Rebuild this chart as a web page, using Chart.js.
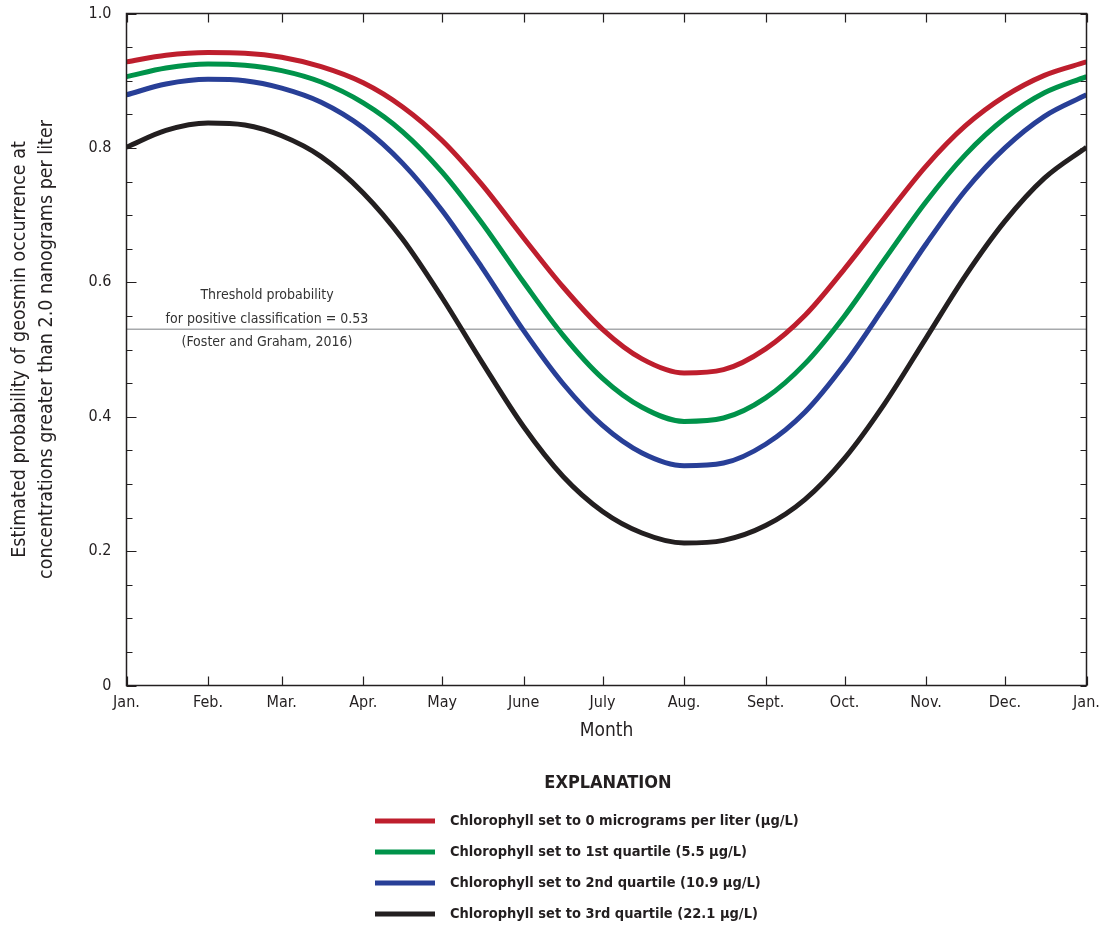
<!DOCTYPE html>
<html>
<head>
<meta charset="utf-8">
<script src="https://cdn.jsdelivr.net/npm/chart.js@4.4.1/dist/chart.umd.min.js"></script>
<style>
  body { margin: 0; background: #fff; }
  canvas { display: block; }
</style>
</head>
<body>
<canvas id="grafico" width="1102" height="928"></canvas>
<script>
// day of year at which each point was read
const days = [0, 15, 31, 45, 59, 74, 90, 105, 120, 135, 151, 166, 181, 196, 212, 227, 243, 258, 273, 288, 304, 319, 334, 349, 365];

const chl0 = [0.928, 0.938, 0.942, 0.941, 0.935, 0.921, 0.897, 0.861, 0.811, 0.746, 0.666, 0.593, 0.530, 0.486, 0.465, 0.470, 0.501, 0.551, 0.620, 0.695, 0.773, 0.833, 0.877, 0.908, 0.928];
const chlQ1 = [0.906, 0.919, 0.925, 0.923, 0.915, 0.898, 0.867, 0.824, 0.764, 0.689, 0.600, 0.521, 0.457, 0.414, 0.393, 0.398, 0.428, 0.479, 0.550, 0.633, 0.720, 0.790, 0.844, 0.882, 0.906];
const chlQ2 = [0.879, 0.895, 0.902, 0.900, 0.889, 0.868, 0.830, 0.777, 0.707, 0.623, 0.528, 0.449, 0.387, 0.346, 0.327, 0.331, 0.359, 0.407, 0.478, 0.563, 0.657, 0.737, 0.800, 0.847, 0.879];
const chlQ3 = [0.801, 0.826, 0.837, 0.834, 0.818, 0.787, 0.733, 0.664, 0.577, 0.482, 0.385, 0.311, 0.259, 0.227, 0.212, 0.216, 0.238, 0.277, 0.338, 0.418, 0.517, 0.610, 0.691, 0.755, 0.801];

const seriesNames = [
    'Chlorophyll set to 0 micrograms per liter (\u00b5g/L)',
    'Chlorophyll set to 1st quartile (5.5 \u00b5g/L)',
    'Chlorophyll set to 2nd quartile (10.9 \u00b5g/L)',
    'Chlorophyll set to 3rd quartile (22.1 \u00b5g/L)'
];

const threshold = 0.53;
const thresholdNote = ['Threshold probability', 'for positive classification = 0.53', '(Foster and Graham, 2016)'];

const monthDays = [0, 31, 59, 90, 120, 151, 181, 212, 243, 273, 304, 334, 365];
const monthLabels = ['Jan.', 'Feb.', 'Mar.', 'Apr.', 'May', 'June', 'July', 'Aug.', 'Sept.', 'Oct.', 'Nov.', 'Dec.', 'Jan.'];

const yTickValues = [0, 0.2, 0.4, 0.6, 0.8, 1.0];
const yTickLabels = ['0', '0.2', '0.4', '0.6', '0.8', '1.0'];

const FONT = '"Liberation Sans Narrow", "DejaVu Sans Condensed", "Liberation Sans", sans-serif';
const INK = '#231f20';

function pontos(valores) {
    return days.map((d, i) => ({ x: d, y: valores[i] }));
}

function curva(label, valores, cor) {
    return {
        label: label,
        data: pontos(valores),
        borderColor: cor,
        backgroundColor: cor,
        borderWidth: 5,
        pointRadius: 0,
        cubicInterpolationMode: 'monotone',
        order: 1
    };
}

// frame, inward ticks, threshold note and the explanation block
const moldura = {
    id: 'moldura',
    afterDraw(chart) {
        const { ctx, chartArea: a, scales: { x, y } } = chart;
        ctx.save();

        ctx.strokeStyle = INK;
        ctx.lineWidth = 1.5;
        ctx.strokeRect(a.left, a.top, a.right - a.left, a.bottom - a.top);

        ctx.lineWidth = 1.2;
        ctx.beginPath();
        x.ticks.forEach(t => {
            const px = Math.round(x.getPixelForValue(t.value)) + 0.5;
            ctx.moveTo(px, a.bottom); ctx.lineTo(px, a.bottom - 9);
            ctx.moveTo(px, a.top); ctx.lineTo(px, a.top + 9);
        });
        y.ticks.forEach(t => {
            const py = Math.round(y.getPixelForValue(t.value)) + 0.5;
            const major = Math.round(t.value * 100) % 20 === 0;
            ctx.moveTo(a.left, py); ctx.lineTo(a.left + (major ? 10 : 6), py);
            ctx.moveTo(a.right, py); ctx.lineTo(a.right - 6, py);
        });
        ctx.stroke();

        // threshold note
        const ty = y.getPixelForValue(threshold);
        ctx.fillStyle = '#333';
        ctx.font = '14px ' + FONT;
        ctx.textAlign = 'center';
        ctx.textBaseline = 'middle';
        const offs = [-34, -10, 13];
        thresholdNote.forEach((txt, i) => ctx.fillText(txt, a.left + 140.5, ty + offs[i]));

        // explanation
        ctx.fillStyle = INK;
        ctx.font = 'bold 18px ' + FONT;
        ctx.fillText('EXPLANATION', 608, 783);
        ctx.textAlign = 'left';
        ctx.font = 'bold 14.5px ' + FONT;
        chart.data.datasets.filter(ds => ds.order === 1).forEach((ds, i) => {
            const ly = 821 + i * 31;
            ctx.strokeStyle = ds.borderColor;
            ctx.lineWidth = 5;
            ctx.beginPath();
            ctx.moveTo(375, ly); ctx.lineTo(435, ly);
            ctx.stroke();
            ctx.fillText(ds.label, 450, ly);
        });
        ctx.restore();
    }
};

document.addEventListener('DOMContentLoaded', () => {
    const ctx = document.getElementById('grafico').getContext('2d');

    new Chart(ctx, {
        type: 'line',
        data: {
            datasets: [
                curva(seriesNames[0], chl0, '#be1e2d'),
                curva(seriesNames[1], chlQ1, '#00934a'),
                curva(seriesNames[2], chlQ2, '#283f97'),
                curva(seriesNames[3], chlQ3, '#231f20'),
                {
                    label: 'threshold',
                    data: [{ x: 0, y: threshold }, { x: 365, y: threshold }],
                    borderColor: '#a7a9ac',
                    borderWidth: 1.5,
                    pointRadius: 0,
                    order: 2
                }
            ]
        },
        options: {
            responsive: false,
            animation: false,
            layout: { padding: { left: 0, top: 13.5, right: 15.5, bottom: 180.5 } },
            plugins: {
                legend: { display: false },
                tooltip: { enabled: false }
            },
            scales: {
                x: {
                    type: 'linear',
                    min: 0,
                    max: 365,
                    grid: { display: false, drawTicks: false },
                    border: { display: false },
                    afterBuildTicks: s => { s.ticks = monthDays.map(v => ({ value: v })); },
                    afterFit: s => { s.height = 62; s.paddingLeft = 0; s.paddingRight = 0; },
                    ticks: {
                        autoSkip: false,
                        maxRotation: 0,
                        padding: 8,
                        color: INK,
                        font: { family: FONT, size: 16 },
                        callback: (v, i) => monthLabels[i]
                    },
                    title: {
                        display: true,
                        text: 'Month',
                        color: INK,
                        font: { family: FONT, size: 19 },
                        padding: { top: 0, bottom: 5 }
                    }
                },
                y: {
                    min: 0,
                    max: 1,
                    grid: { display: false, drawTicks: false },
                    border: { display: false },
                    afterFit: s => { s.width = 126.5; s.paddingTop = 0; s.paddingBottom = 0; },
                    ticks: {
                        stepSize: 0.05,
                        autoSkip: false,
                        padding: 15,
                        color: INK,
                        font: { family: FONT, size: 16 },
                        callback: v => {
                            const k = yTickValues.findIndex(t => Math.abs(t - v) < 1e-6);
                            return k >= 0 ? yTickLabels[k] : '';
                        }
                    },
                    title: {
                        display: true,
                        text: ['Estimated probability of geosmin occurrence at', 'concentrations greater than 2.0 nanograms per liter'],
                        color: INK,
                        font: { family: FONT, size: 19.5, lineHeight: 1.35 },
                        padding: { top: 7, bottom: 0 }
                    }
                }
            }
        },
        plugins: [moldura]
    });
});
</script>
</body>
</html>
